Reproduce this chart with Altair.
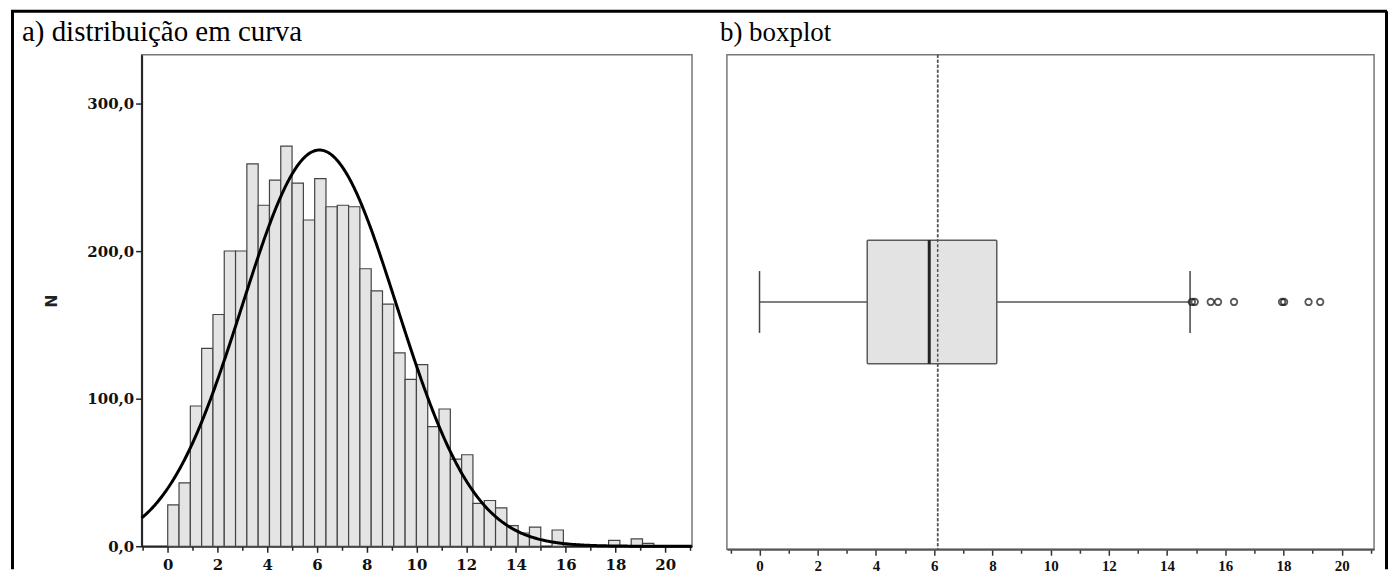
import altair as alt
import pandas as pd

# ---------------- data ----------------
BIN_WIDTH = 0.4545
COUNTS = [28, 43, 95, 134, 157, 200, 200, 259, 231, 248, 271, 246, 221, 249,
          230, 231, 230, 188, 173, 164, 131, 113, 123, 81, 93, 59, 62, 29, 31,
          26, 14, 9, 13, 0, 11, 0, 0, 0, 0, 4, 0, 5, 2]
CURVE_MEAN = 6.1
CURVE_SD = 3.11
CURVE_N = 4604

BOX_MIN = 0.0
BOX_Q1 = 3.70
BOX_MEDIAN = 5.83
BOX_Q3 = 8.15
BOX_MAX = 14.79
BOX_MEAN = 6.12
OUTLIERS = [14.85, 14.95, 15.50, 15.75, 16.30, 17.95, 18.02, 18.86, 19.26]

X_TICKS = list(range(-1, 22))
Y_TICKS = [0, 100, 200, 300]

TITLE_A = "a) distribuição em curva"
TITLE_B = "b) boxplot"
Y_TITLE = "N"

# ---------------- layout ----------------
LW, LH = 552, 493
RW, RH = 649, 496
GAP = 35
LEFT_DOMAIN = [-1.05, 21.08]
RIGHT_DOMAIN = [-1.12, 21.11]

hist = pd.DataFrame({
    "start": [i * BIN_WIDTH for i in range(len(COUNTS))],
    "end": [(i + 1) * BIN_WIDTH for i in range(len(COUNTS))],
    "n": COUNTS,
})
hist = hist[hist["n"] > 0]

tick_cond = {"condition": {"test": "datum.value % 2 === 0", "value": 6}, "value": 4}
label_expr = "datum.value % 2 === 0 ? format(datum.value, 'd') : ''"

x_axis_left = alt.Axis(
    values=X_TICKS, labelExpr=label_expr, tickSize=tick_cond, tickColor="#222",
    tickWidth=1.5, domainColor="#222", domainWidth=2, labelFont="DejaVu Serif",
    labelFontWeight="bold", labelFontSize=15, labelColor="#111", labelPadding=5,
    labelOverlap=False, labelFlush=False, grid=False, title=None,
)
y_axis_left = alt.Axis(
    values=Y_TICKS, labelExpr="replace(format(datum.value, '.1f'), '.', ',')",
    tickSize=6, tickColor="#222", tickWidth=1.5, domainColor="#222", domainWidth=2,
    labelFont="DejaVu Serif", labelFontWeight="bold", labelFontSize=15,
    labelColor="#111", labelPadding=2, grid=False, title=Y_TITLE,
    titleFont="DejaVu Sans", titleFontWeight="bold", titleFontSize=16,
    titleColor="#222", titleX=-90, titleY=LH / 2, titleAngle=270,
    titleAlign="center", titleBaseline="middle",
)

xl = lambda f: alt.X(f, type="quantitative", scale=alt.Scale(domain=LEFT_DOMAIN, nice=False, zero=False), axis=x_axis_left, title=None)

bars = alt.Chart(hist).mark_rect(fill="#e4e4e4", stroke="#444", strokeWidth=1.2).encode(
    x=xl("start"), x2="end",
    y=alt.Y("n:Q", scale=alt.Scale(domain=[0, 333], nice=False), axis=y_axis_left),
)

curve = alt.Chart(alt.sequence(LEFT_DOMAIN[0], LEFT_DOMAIN[1] + 0.01, 0.04, as_="x")).transform_calculate(
    y=f"{CURVE_N}*{BIN_WIDTH}*exp(-0.5*pow((datum.x-{CURVE_MEAN})/{CURVE_SD},2))/({CURVE_SD}*sqrt(2*PI))"
).mark_line(color="black", strokeWidth=3).encode(
    x=xl("x"),
    y=alt.Y("y:Q", scale=alt.Scale(domain=[0, 333], nice=False), axis=y_axis_left),
)

title_a = alt.Chart(pd.DataFrame({"t": [TITLE_A]})).mark_text(
    font="Liberation Serif", fontSize=29, align="left", baseline="alphabetic", color="black"
).encode(text="t:N", x=alt.value(-120), y=alt.value(-14))

border_df = pd.DataFrame({"k": [0]})
top_border = alt.Chart(border_df).mark_rule(color="black", strokeWidth=3).encode(
    x=alt.value(-131), x2=alt.value(1249), y=alt.value(-43.5))
left_border = alt.Chart(border_df).mark_rule(color="black", strokeWidth=3).encode(
    x=alt.value(-129.5), y=alt.value(-43.5), y2=alt.value(516))
right_border = alt.Chart(border_df).mark_rule(color="black", strokeWidth=3).encode(
    x=alt.value(1248.5), y=alt.value(-43.5), y2=alt.value(516))

left = alt.layer(bars, curve, title_a, top_border, left_border, right_border).properties(width=LW, height=LH)

# ---------------- right panel ----------------
x_axis_right = alt.Axis(
    values=X_TICKS, labelExpr=label_expr, tickSize=tick_cond, tickColor="#333",
    tickWidth=1.5, domainColor="#555", domainWidth=2, labelFont="Liberation Serif",
    labelFontWeight="bold", labelFontSize=15, labelColor="#111", labelPadding=3,
    labelOverlap=False, labelFlush=False, grid=False, title=None,
)
xr = lambda f: alt.X(f, type="quantitative", scale=alt.Scale(domain=RIGHT_DOMAIN, nice=False, zero=False), axis=x_axis_right, title=None)

box_df = pd.DataFrame({"q1": [BOX_Q1], "q3": [BOX_Q3], "med": [BOX_MEDIAN], "mean": [BOX_MEAN]})
whisk_df = pd.DataFrame({"a": [BOX_MIN, BOX_Q3], "b": [BOX_Q1, BOX_MAX]})
cap_df = pd.DataFrame({"v": [BOX_MIN, BOX_MAX]})
out_df = pd.DataFrame({"v": OUTLIERS})

mean_line = alt.Chart(box_df).mark_rule(color="#555", strokeWidth=1.5, strokeDash=[3, 2]).encode(
    x=xr("mean"), y=alt.value(0), y2=alt.value(RH))
whisk = alt.Chart(whisk_df).mark_rule(color="#555", strokeWidth=1.5).encode(
    x=xr("a"), x2="b", y=alt.value(248))
caps = alt.Chart(cap_df).mark_rule(color="#444", strokeWidth=1.5).encode(
    x=xr("v"), y=alt.value(217), y2=alt.value(279))
box = alt.Chart(box_df).mark_rect(fill="#e3e3e3", stroke="#5a5a5a", strokeWidth=1.5, cornerRadius=1).encode(
    x=xr("q1"), x2="q3", y=alt.value(186), y2=alt.value(310))
median = alt.Chart(box_df).mark_rule(color="#222", strokeWidth=3).encode(
    x=xr("med"), y=alt.value(186), y2=alt.value(310))
outl = alt.Chart(out_df).mark_point(shape="circle", filled=False, color="#111", size=42, strokeWidth=1.8).encode(
    x=xr("v"), y=alt.value(248))
title_b = alt.Chart(pd.DataFrame({"t": [TITLE_B]})).mark_text(
    font="Liberation Serif", fontSize=27, align="left", baseline="alphabetic", color="black"
).encode(text="t:N", x=alt.value(-7), y=alt.value(-14))

right = alt.layer(mean_line, whisk, caps, box, median, mean_line, outl, title_b).properties(width=RW, height=RH)

chart = alt.hconcat(left, right, spacing=GAP, bounds="flush").properties(
    padding=0, background="white"
).configure_view(stroke="#777", strokeWidth=1.5)

chart.save("out.html", embed_options={"renderer": "svg", "actions": False})
